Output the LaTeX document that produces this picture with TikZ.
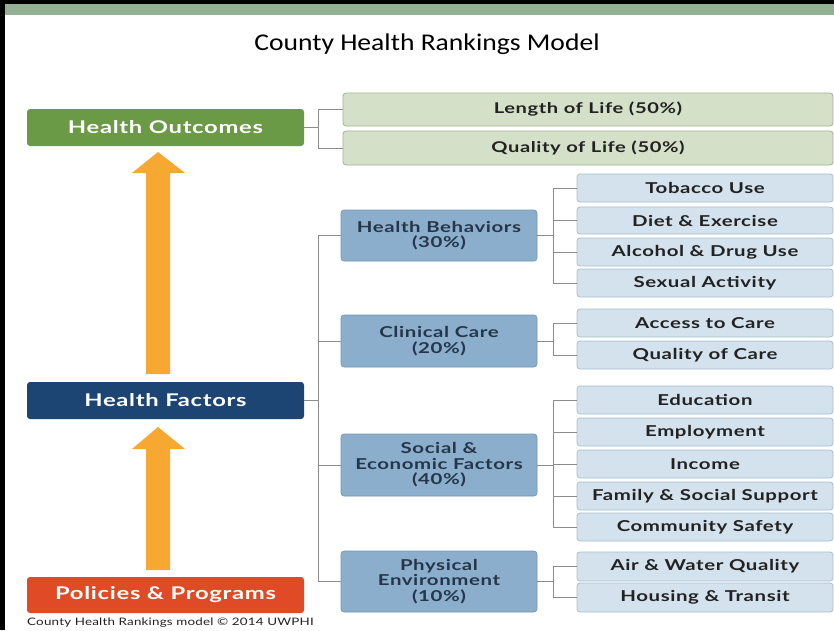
\documentclass[tikz,border=0pt]{standalone}
\usepackage{fontspec}
\setmainfont{Lato}[FakeStretch=1.36, LetterSpace=4]
\newfontfamily\titlefont{Carlito}[FakeStretch=1.15]
\newfontfamily\footfont{Lato}[FakeStretch=1.3, LetterSpace=2]
\definecolor{hogreen}{HTML}{6B9A47}
\definecolor{outfill}{HTML}{D5E0C9}
\definecolor{outdraw}{HTML}{A4B497}
\definecolor{hfblue}{HTML}{1D4573}
\definecolor{midfill}{HTML}{8AAECB}
\definecolor{middraw}{HTML}{7696B2}
\definecolor{subfill}{HTML}{D3E2ED}
\definecolor{subdraw}{HTML}{A9BFD0}
\definecolor{pporange}{HTML}{E04A26}
\definecolor{arroworange}{HTML}{F7A830}
\definecolor{bandgreen}{HTML}{93B095}
\definecolor{linegray}{HTML}{8C8C8C}
\definecolor{darktext}{HTML}{222222}
\definecolor{midtext}{HTML}{26364A}
\tikzset{
  leftbox/.style={rounded corners=3pt, minimum width=277pt, minimum height=37pt, inner sep=0pt,
    text=white, font=\fontsize{17.5}{20}\selectfont\bfseries},
  outbox/.style={rounded corners=3pt, fill=outfill, draw=outdraw, line width=0.8pt, minimum width=490pt,
    minimum height=33pt, inner sep=0pt, text=darktext, font=\fontsize{14.8}{17}\selectfont\bfseries},
  midbox/.style={rounded corners=3pt, fill=midfill, draw=middraw, line width=0.6pt, minimum width=196pt,
    inner sep=0pt, align=center, text=midtext, font=\fontsize{15}{15.5}\selectfont\bfseries},
  subbox/.style={rounded corners=3pt, fill=subfill, draw=subdraw, line width=0.8pt, minimum width=256pt,
    minimum height=28pt, inner sep=0pt, text=darktext, font=\fontsize{15}{17}\selectfont\bfseries},
  conn/.style={draw=linegray, line width=0.8pt},
  uparrow/.style={fill=arroworange, draw=none}
}
\begin{document}
\begin{tikzpicture}[x=1pt,y=-1pt]
\useasboundingbox (0,0) rectangle (834,630);
\fill[white] (0,0) rectangle (834,630);
% frame
\fill[black] (0,0) rectangle (834,3.5);
\fill[black] (0,0) rectangle (5,630);
\fill[bandgreen] (5,3.5) rectangle (834,14.5);
% title
\node[font=\titlefont\fontsize{24}{28}\selectfont, text=black] (title) at (427,44) {County Health Rankings Model};
% left column
\node[leftbox, fill=hogreen] (HO) at (165.5,127.5) {Health Outcomes};
\node[leftbox, fill=hfblue] (HF) at (165.5,400.5) {Health Factors};
\node[leftbox, fill=pporange, minimum height=36pt] (PP) at (165.5,595) {Policies \& Programs};
% outcomes
\node[outbox] (LL) at (588,109.5) {Length of Life (50\%)};
\node[outbox, minimum height=34pt] (QL) at (588,148) {Quality of Life (50\%)};
% mid boxes
\node[midbox, minimum height=51pt] (HB) at (439,235.5) {Health Behaviors\\(30\%)};
\node[midbox, minimum height=52pt] (CC) at (439,341) {Clinical Care\\(20\%)};
\node[midbox, minimum height=62pt] (SE) at (439,465) {Social \&\\Economic Factors\\(40\%)};
\node[midbox, minimum height=61pt] (PE) at (439,581.5) {Physical\\Environment\\(10\%)};
% sub boxes
\node[subbox] (TU) at (705,188) {Tobacco Use};
\node[subbox, minimum height=27pt] (DE) at (705,220.5) {Diet \& Exercise};
\node[subbox] (AD) at (705,252) {Alcohol \& Drug Use};
\node[subbox] (SA) at (705,283) {Sexual Activity};
\node[subbox] (AC) at (705,323) {Access to Care};
\node[subbox] (QC) at (705,355) {Quality of Care};
\node[subbox] (ED) at (705,400) {Education};
\node[subbox] (EM) at (705,432) {Employment};
\node[subbox] (IN) at (705,464) {Income};
\node[subbox] (FS) at (705,496) {Family \& Social Support};
\node[subbox] (CS) at (705,527) {Community Safety};
\node[subbox, minimum height=29pt] (AW) at (705,566.5) {Air \& Water Quality};
\node[subbox, minimum height=29pt] (HT) at (705,597.5) {Housing \& Transit};
% bracket coordinates
\coordinate (b0) at (318,0);
\coordinate (b2) at (553,0);
% outcomes bracket
\foreach \c in {LL,QL} \draw[conn] (\c.west) -- (\c.west -| b0) |- (HO.east);
% factors bracket
\foreach \c in {HB,CC,SE,PE} \draw[conn] (\c.west) -- (\c.west -| b0) |- (HF.east);
% sub brackets
\foreach \c in {TU,DE,AD,SA} \draw[conn] (\c.west) -- (\c.west -| b2) |- (HB.east);
\foreach \c in {AC,QC} \draw[conn] (\c.west) -- (\c.west -| b2) |- (CC.east);
\foreach \c in {ED,EM,IN,FS,CS} \draw[conn] (\c.west) -- (\c.west -| b2) |- (SE.east);
\foreach \c in {AW,HT} \draw[conn] (\c.west) -- (\c.west -| b2) |- (PE.east);
% arrows
\fill[uparrow] (158,152) -- (185,173) -- (170,173) -- (170,374) -- (146,374) -- (146,173) -- (132,173) -- cycle;
\fill[uparrow] (158,427) -- (185,449) -- (170,449) -- (170,570) -- (146,570) -- (146,449) -- (132,449) -- cycle;
% footer
\node[anchor=west, font=\footfont\fontsize{10.3}{11}\selectfont, text=darktext, inner sep=0pt] (foot) at (27,623) {County Health Rankings model \textcopyright{} 2014 UWPHI};
\end{tikzpicture}
\end{document}
